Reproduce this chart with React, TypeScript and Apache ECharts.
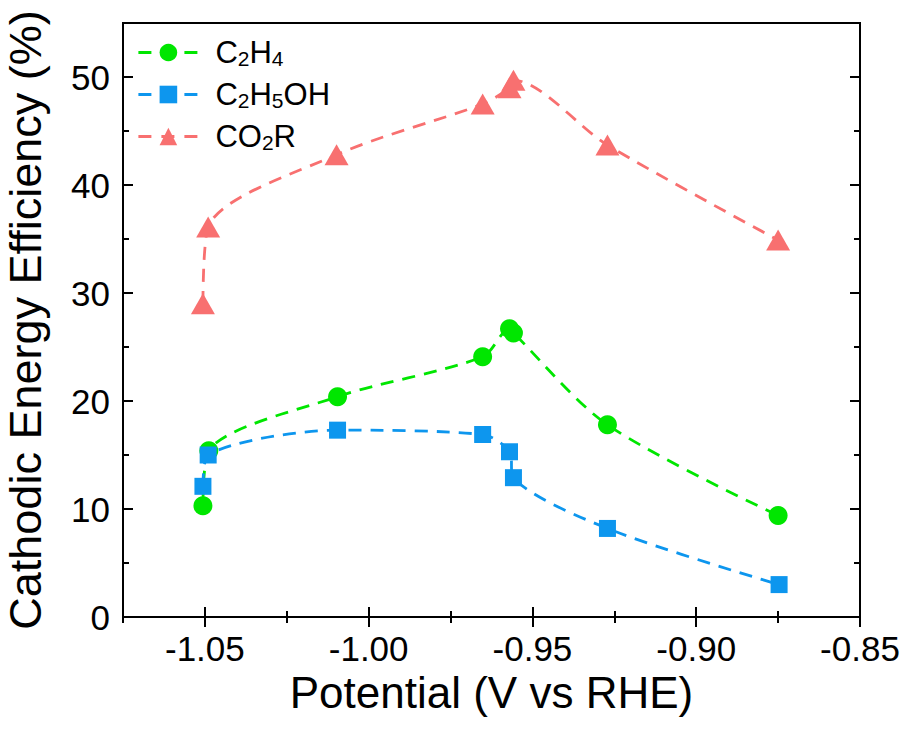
import React, { useEffect, useRef } from "react";
import * as echarts from "echarts";

const xC2H4 = [-1.0506, -1.0488, -1.0095, -0.9652, -0.957, -0.9558, -0.9271, -0.875];
const yC2H4 = [10.3, 15.4, 20.4, 24.1, 26.7, 26.3, 17.8, 9.4];
const xC2H5OH = [-1.0506, -1.049, -1.0095, -0.9652, -0.957, -0.9558, -0.9271, -0.8747];
const yC2H5OH = [12.1, 15.0, 17.3, 16.9, 15.3, 12.9, 8.2, 3.0];
const xCO2R = [-1.0506, -1.049, -1.0098, -0.9652, -0.957, -0.9558, -0.9271, -0.875];
const yCO2R = [29.0, 36.1, 42.8, 47.5, 49.0, 49.7, 43.7, 34.9];

const seriesNames = ["C2H4", "C2H5OH", "CO2R"];
const legendRich: Record<string, string> = {
  C2H4: "{g|}{n|C}{s|2}{n|H}{s|4}",
  C2H5OH: "{g|}{n|C}{s|2}{n|H}{s|5}{n|OH}",
  CO2R: "{g|}{n|CO}{s|2}{n|R}",
};

const xMajor = [-1.05, -1.0, -0.95, -0.9, -0.85];
const xMinor = [-1.075, -1.025, -0.975, -0.925, -0.875];
const yMajor = [0, 10, 20, 30, 40, 50];
const yMinor = [5, 15, 25, 35, 45];

const FONT = "Liberation Sans, Arial, sans-serif";

export default function App() {
  const ref = useRef<HTMLDivElement>(null);
  useEffect(() => {
    if (!ref.current) return;
    const chart = echarts.init(ref.current, undefined, { renderer: "svg" });
    const zip = (xs: number[], ys: number[]) => xs.map((x, i) => [x, ys[i]]);
    const X_MIN = -1.075, X_MAX = -0.85, Y_MIN = 0, Y_MAX = 55;
    const baseX = (pos: "bottom" | "top", vals: number[], len: number, labels: boolean) => ({
      type: "value",
      position: pos,
      min: X_MIN,
      max: X_MAX,
      splitLine: { show: false },
      axisLine: { show: false },
      axisTick: { show: true, inside: true, length: len, customValues: vals, lineStyle: { color: "#000", width: 2 } },
      axisLabel: labels
        ? { show: true, customValues: vals, margin: 14, fontSize: 35, color: "#000", fontFamily: FONT, formatter: (v: number) => v.toFixed(2) }
        : { show: false },
    });
    const baseY = (pos: "left" | "right", vals: number[], len: number, labels: boolean) => ({
      type: "value",
      position: pos,
      min: Y_MIN,
      max: Y_MAX,
      splitLine: { show: false },
      axisLine: { show: false },
      axisTick: { show: true, inside: true, length: len, customValues: vals, lineStyle: { color: "#000", width: 2 } },
      axisLabel: labels
        ? { show: true, customValues: vals, margin: 13, fontSize: 35, color: "#000", fontFamily: FONT, formatter: (v: number) => String(v) }
        : { show: false },
    });
    const xAxes: any[] = [
      { ...baseX("bottom", xMajor, 10, true), name: "Potential (V vs RHE)", nameLocation: "middle", nameGap: 49, nameTextStyle: { fontSize: 44, color: "#000", fontFamily: FONT } },
      baseX("bottom", xMinor, 6, false),
      baseX("top", xMajor, 10, false),
      baseX("top", xMinor, 6, false),
    ];
    const yAxes: any[] = [
      { ...baseY("left", yMajor, 10, true), name: "Cathodic Energy Efficiency (%)", nameLocation: "middle", nameGap: 75, nameTextStyle: { fontSize: 45, color: "#000", fontFamily: FONT } },
      baseY("left", yMinor, 6, false),
      baseY("right", yMajor, 10, false),
      baseY("right", yMinor, 6, false),
    ];
    const mk = (name: string, data: number[][], color: string, symbol: string, size: any) => ({
      name,
      type: "line",
      data,
      smooth: 0.3,
      symbol,
      symbolSize: size,
      xAxisIndex: 0,
      yAxisIndex: 0,
      lineStyle: { color, width: 2.8, type: [13, 9] },
      itemStyle: { color },
      emphasis: { disabled: true },
    });
    chart.setOption({
      animation: false,
      textStyle: { fontFamily: FONT },
      grid: {
        left: 123, right: 50, top: 23, bottom: 115,
        outerBoundsMode: "none",
        containLabel: false,
        show: true, borderColor: "#000", borderWidth: 2, backgroundColor: "transparent",
      },
      xAxis: xAxes,
      yAxis: yAxes,
      legend: {
        data: seriesNames,
        orient: "vertical",
        left: 132,
        top: 31,
        itemWidth: 60,
        itemHeight: 22,
        itemGap: 9,
        lineStyle: { type: [13, 10], width: 2.8 },
        formatter: (name: string) => legendRich[name],
        textStyle: {
          color: "#000",
          rich: {
            g: { width: 12 },
            n: { fontSize: 31, fontFamily: FONT, color: "#000", lineHeight: 34 },
            s: { fontSize: 21, fontFamily: FONT, color: "#000", lineHeight: 20, padding: [12, 0, 0, 0] },
          },
        },
      },
      series: [
        mk("C2H4", zip(xC2H4, yC2H4), "#00e600", "circle", 19),
        mk("C2H5OH", zip(xC2H5OH, yC2H5OH), "#0d96ee", "rect", 17),
        mk("CO2R", zip(xCO2R, yCO2R), "#f87070", "triangle", [24, 21]),
      ],
    });
    return () => chart.dispose();
  }, []);
  return <div ref={ref} style={{ position: "absolute", left: 0, top: 0, width: 910, height: 732 }} />;
}
